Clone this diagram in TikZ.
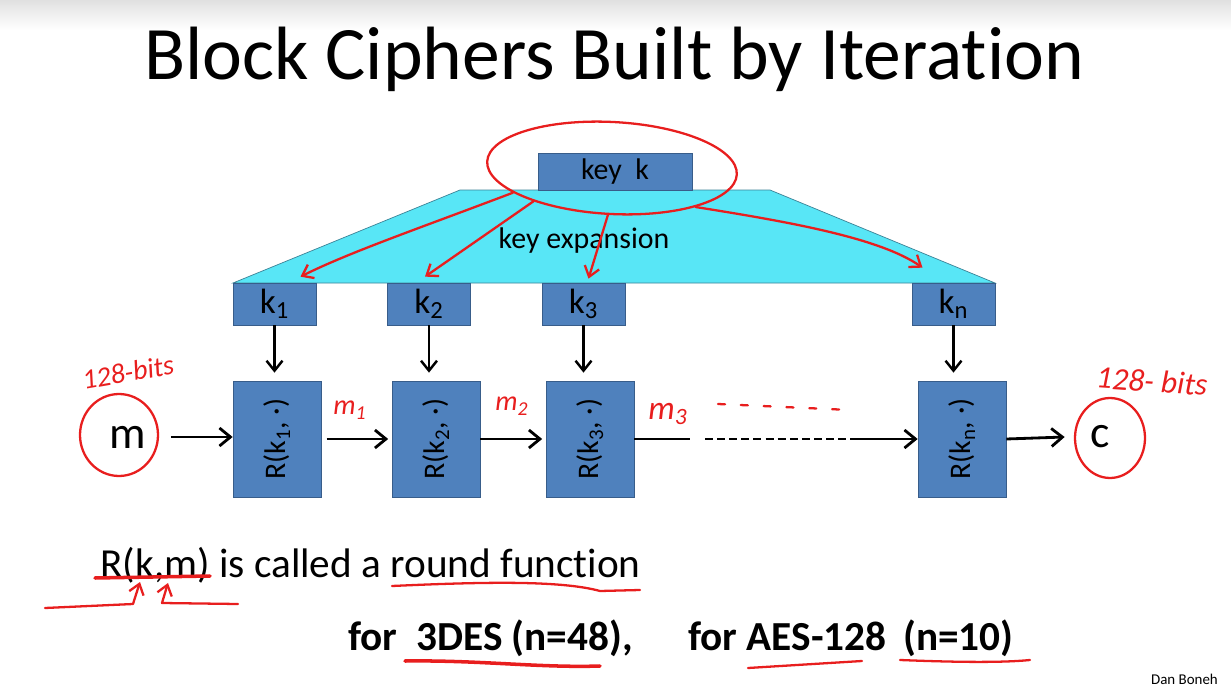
\documentclass[tikz,border=0pt]{standalone}
\usepackage{fontspec}
\setmainfont{Carlito}[Ligatures=NoCommon]
\usetikzlibrary{arrows.meta,shapes.geometric}

\definecolor{boxblue}{RGB}{79,129,189}
\definecolor{boxedge}{RGB}{56,93,138}
\definecolor{expcyan}{RGB}{88,230,246}
\definecolor{expedge}{RGB}{60,130,150}
\definecolor{penred}{RGB}{232,30,30}

\begin{document}
\begin{tikzpicture}[x=0.02cm,y=-0.02cm,
  every node/.style={font=\fontsize{17}{20}\selectfont},
  kbox/.style={draw=boxedge,fill=boxblue,minimum width=1.66cm,minimum height=0.84cm,inner sep=0pt,font=\fontsize{20}{22}\selectfont},
  rbox/.style={draw=boxedge,fill=boxblue,minimum width=1.76cm,minimum height=2.32cm,inner sep=0pt},
  flow/.style={-{Straight Barb[length=2.2mm,width=3.6mm]},line width=1.6pt},
  drop/.style={-{Straight Barb[length=2mm,width=3.2mm]},line width=1.4pt},
  pen/.style={draw=penred,line width=1.3pt,line cap=round,line join=round},
  penarrow/.style={pen,-{Straight Barb[length=2mm,width=3mm]}},
  pentext/.style={text=penred,font=\fontsize{16}{18}\selectfont\itshape},
  slidetext/.style={anchor=base west,inner sep=0pt,font=\fontsize{23.5}{28}\selectfont}]

\useasboundingbox (0,0) rectangle (1231,686);
\shade[top color=black!12,bottom color=white] (0,0) rectangle (1231,30);

\node[anchor=base,font=\fontsize{43}{50}\selectfont] (title) at (614,80) {Block Ciphers Built by Iteration};

% key expansion
\draw[fill=expcyan,draw=expedge] (460,190) -- (770,190) -- (995,283) -- (233,283) -- cycle;
\node[draw=boxedge,fill=boxblue,minimum width=3.08cm,minimum height=0.74cm,inner sep=0pt] (key) at (615,171.5) {key\ \ k};
\node[anchor=base] (kexp) at (584,248) {key expansion};

\node[kbox] (k1) at (274.5,304) {k\textsubscript{1}};
\node[kbox] (k2) at (429,304) {k\textsubscript{2}};
\node[kbox] (k3) at (583.5,304) {k\textsubscript{3}};
\node[kbox] (kn) at (953.5,304) {k\textsubscript{n}};

% rounds
\node[rbox] (R1) at (277,439) {\rotatebox{90}{R(k\textsubscript{1}, ·)}};
\node[rbox] (R2) at (436,439) {\rotatebox{90}{R(k\textsubscript{2}, ·)}};
\node[rbox] (R3) at (590,439) {\rotatebox{90}{R(k\textsubscript{3}, ·)}};
\node[rbox] (Rn) at (962,439) {\rotatebox{90}{R(k\textsubscript{n}, ·)}};

\node[minimum width=1.7cm,font=\fontsize{26}{30}\selectfont] (m) at (128,437) {m};
\node[minimum width=1.4cm,font=\fontsize{26}{30}\selectfont] (c) at (1100,437) {c};

\draw[drop,shorten >=0.16cm] (k1) -- (k1 |- R1.north);
\draw[drop,shorten >=0.16cm] (k2) -- (k2 |- R2.north);
\draw[drop,shorten >=0.16cm] (k3) -- (k3 |- R3.north);
\draw[drop,shorten >=0.16cm] (kn) -- (kn |- Rn.north);

\coordinate (gapA) at (690,439);
\coordinate (gapB) at (705,439);
\coordinate (gapC) at (858,439);
\draw[flow] (m.east) -- (m.east -| R1.west);
\draw[flow,shorten <=3pt,shorten >=2pt] (R1.east) -- (R2.west);
\draw[flow,shorten >=2pt] (R2.east) -- (R3.west);
\draw[line width=1.6pt] (R3.east) -- (gapA);
\draw[line width=1.6pt,dash pattern=on 4.5pt off 2.4pt] (gapB) -- (gapC);
\draw[flow] (gapC) -- (Rn.west);
\draw[flow] (Rn.east) -- (c.west);

\node[slidetext] (rdef) at (100,577) {R(k,m) is called a round function};
\node[slidetext,font=\fontsize{23.5}{28}\selectfont\bfseries] (des) at (348,650) {for\ \ 3DES (n=48),};
\node[slidetext,font=\fontsize{23.5}{28}\selectfont\bfseries] (aes) at (688,650) {for AES-128};
\node[slidetext,font=\fontsize{23.5}{28}\selectfont\bfseries] (aesn) at (903,650) {(n=10)};
\node[anchor=base east,font=\fontsize{8.5}{10}\selectfont] (author) at (1224,684) {Dan Boneh};

% pen notes
\node[pen,ellipse,minimum width=5cm,minimum height=1.84cm,rotate=-3] (keyring) at (612,168) {};
\draw[penarrow] (keyring.197) .. controls (420,228) and (350,252) .. ([shift={(26,-6)}]k1.north);
\draw[penarrow] (keyring.206) -- ([shift={(-4,-6)}]k2.north);
\draw[penarrow] (keyring.268) -- ([shift={(5,-4)}]k3.north);
\draw[penarrow] (keyring.338) .. controls (790,222) and (880,238) .. ([shift={(-31,-15)}]kn.north);

\node[pen,ellipse,minimum width=1.56cm,minimum height=1.64cm] (mring) at (119,435) {};
\node[pen,ellipse,minimum width=1.4cm,minimum height=1.6cm] (cring) at (1110,438) {};
\node[pentext,rotate=10] (mbits) at (128,372) {128-bits};
\node[pentext,rotate=-4,font=\fontsize{18}{20}\selectfont\itshape] (cbits) at (1152,381) {128- bits};

\node[pentext] (m1) at (350,410) {m\textsubscript{1}};
\node[pentext] (m2) at (512,406) {m\textsubscript{2}};
\node[pentext,font=\fontsize{19}{20}\selectfont\itshape] (m3) at (668,414) {m\textsubscript{3}};
\draw[pen,dash pattern=on 4pt off 9pt] (718,404) -- (850,410);

\draw[pen,line width=2pt] (95,578) -- (210,576);
\draw[penarrow] (45,608) -- (133,604) -- (140,582);
\draw[penarrow] (238,604) -- (162,603) -- (168,583);
\draw[pen] (392,586) .. controls (480,582) and (560,580) .. (600,591) -- (640,590);
\draw[pen,line width=2pt] (405,661) .. controls (480,660) and (540,668) .. (600,666);
\draw[pen] (748,668) -- (862,661);
\draw[pen] (900,660) .. controls (950,662) and (1000,663) .. (1030,660);
\end{tikzpicture}
\end{document}
